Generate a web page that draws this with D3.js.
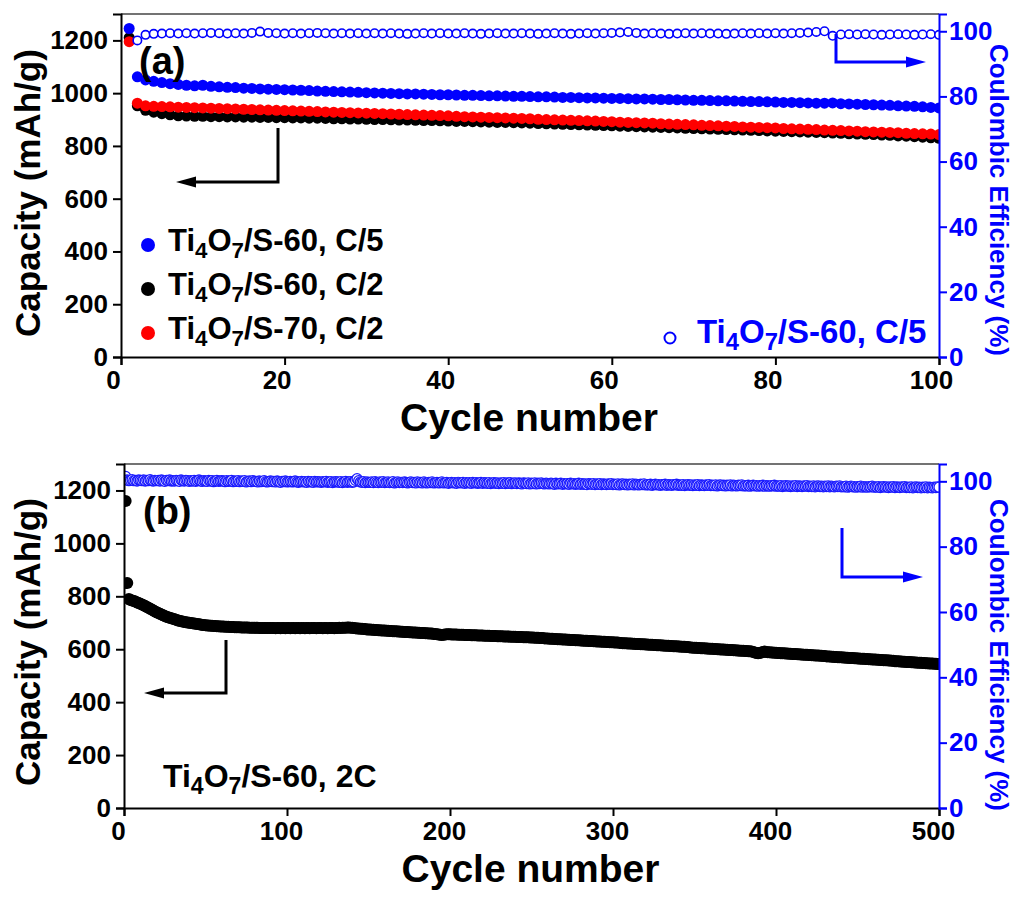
<!DOCTYPE html>
<html>
<head>
<meta charset="utf-8">
<script src="https://cdn.jsdelivr.net/npm/d3@7"></script>
<style>
  body { margin: 0; background: #fff; }
  svg text { font-family: "Liberation Sans", Arial, sans-serif; font-weight: bold; }
</style>
</head>
<body>
<svg width="1015" height="899"></svg>
<script>
// ---- data (a): 100 cycles ----
const capA_S60_C5 = [
  1245, 1062, 1050, 1045, 1040, 1036, 1033, 1030, 1028, 1030,
  1026, 1024, 1022, 1021, 1019, 1018, 1016, 1015, 1014, 1013,
  1012, 1011, 1010, 1008, 1007, 1006, 1005, 1004, 1003, 1002,
  1001, 1000, 999, 998, 997, 997, 996, 995, 994, 994,
  993, 992, 992, 991, 990, 990, 989, 988, 988, 987,
  986, 986, 985, 984, 984, 983, 982, 982, 981, 980,
  980, 979, 978, 978, 977, 976, 976, 975, 974, 973,
  973, 972, 971, 971, 970, 969, 968, 968, 967, 966,
  965, 965, 964, 963, 962, 962, 963, 960, 959, 958,
  957, 956, 955, 954, 952, 951, 950, 948, 946, 944
];
const capA_S60_C2 = [
  1210, 952, 935, 928, 922, 918, 914, 913, 912, 912,
  911, 911, 910, 910, 909, 909, 908, 908, 907, 907,
  906, 906, 905, 905, 904, 903, 903, 902, 902, 901,
  900, 900, 899, 898, 898, 897, 896, 896, 895, 894,
  893, 893, 892, 891, 890, 889, 889, 888, 887, 886,
  885, 884, 883, 882, 881, 880, 879, 878, 877, 876,
  875, 874, 873, 872, 871, 870, 869, 868, 867, 866,
  865, 864, 863, 862, 861, 860, 859, 858, 857, 856,
  855, 854, 853, 852, 851, 850, 849, 848, 846, 845,
  844, 843, 841, 840, 838, 837, 835, 833, 831, 829
];
const capA_S70_C2 = [
  1195, 962, 952, 950, 949, 948, 947, 946, 945, 944,
  943, 942, 941, 940, 939, 938, 937, 936, 935, 934,
  933, 932, 931, 930, 929, 928, 927, 926, 925, 924,
  923, 922, 921, 920, 919, 918, 917, 916, 915, 914,
  912, 911, 910, 909, 908, 907, 906, 905, 904, 903,
  901, 900, 899, 898, 897, 896, 895, 894, 893, 892,
  890, 889, 888, 887, 886, 884, 883, 882, 881, 880,
  878, 877, 876, 875, 874, 872, 871, 870, 869, 868,
  866, 865, 864, 863, 862, 860, 859, 858, 857, 856,
  854, 853, 852, 851, 850, 848, 847, 846, 845, 843
];
const ceA_S60_C5 = [
  null, 97.2, 98.9, 99.2, 99.3, 99.4, 99.3, 99.4, 99.3, 99.4,
  99.5, 99.4, 99.3, 99.4, 99.3, 99.5, 99.9, 99.5, 99.4, 99.3,
  99.4, 99.3, 99.4, 99.5, 99.4, 99.3, 99.4, 99.3, 99.4, 99.3,
  99.4, 99.3, 99.4, 99.3, 99.2, 99.3, 99.4, 99.3, 99.4, 99.3,
  99.3, 99.4, 99.3, 99.2, 99.3, 99.4, 99.3, 99.3, 99.4, 99.3,
  99.2, 99.3, 99.4, 99.3, 99.2, 99.3, 99.4, 99.3, 99.4, 99.5,
  99.6, 99.8, 99.5, 99.3, 99.4, 99.3, 99.2, 99.3, 99.4, 99.3,
  99.4, 99.3, 99.3, 99.2, 99.3, 99.4, 99.3, 99.4, 99.3, 99.4,
  99.3, 99.4, 99.5, 99.6, 99.8, 100.0, 98.6, 99.0, 99.1, 99.0,
  99.1, 99.0, 98.9, 99.0, 99.1, 99.0, 98.9, 99.0, 99.1, 98.9
];

// ---- data (b): 500 cycles at 2C ----
const capB_S60_2C = [
  1160, 850, 790, 786, 784, 782, 780, 777, 775, 772,
  769, 766, 763, 760, 757, 753, 750, 746, 743, 740,
  737, 734, 731, 728, 726, 723, 721, 719, 717, 715,
  713, 711, 709, 708, 706, 705, 703, 702, 701, 700,
  699, 698, 697, 696, 695, 694, 693, 692, 692, 691,
  690, 690, 689, 689, 688, 688, 687, 687, 686, 686,
  686, 685, 685, 685, 684, 684, 684, 683, 683, 683,
  683, 682, 682, 682, 682, 682, 681, 681, 681, 681,
  681, 681, 680, 680, 680, 680, 680, 680, 680, 680,
  680, 680, 679, 680, 680, 679, 680, 680, 679, 680,
  680, 679, 680, 680, 679, 680, 680, 679, 680, 680,
  679, 680, 680, 679, 680, 680, 680, 679, 680, 680,
  680, 679, 680, 680, 679, 680, 680, 680, 679, 680,
  680, 681, 680, 681, 681, 681, 682, 682, 681, 681,
  680, 679, 678, 678, 677, 677, 676, 676, 675, 675,
  675, 674, 674, 673, 673, 672, 672, 671, 671, 671,
  670, 670, 669, 669, 668, 668, 668, 667, 667, 666,
  666, 665, 665, 665, 664, 664, 663, 663, 663, 662,
  662, 661, 661, 661, 660, 660, 659, 659, 659, 658,
  658, 657, 656, 655, 654, 655, 656, 657, 657, 657,
  656, 656, 656, 656, 655, 655, 655, 655, 654, 654,
  654, 654, 653, 653, 653, 653, 652, 652, 652, 652,
  651, 651, 651, 651, 650, 650, 650, 650, 649, 649,
  649, 649, 648, 648, 648, 648, 647, 647, 647, 647,
  646, 646, 646, 646, 645, 645, 645, 645, 644, 644,
  644, 643, 643, 643, 642, 642, 642, 641, 641, 641,
  640, 640, 640, 639, 639, 638, 638, 638, 637, 637,
  637, 636, 636, 635, 635, 635, 634, 634, 634, 633,
  633, 632, 632, 632, 631, 631, 631, 630, 630, 629,
  629, 629, 628, 628, 628, 627, 627, 626, 626, 626,
  625, 625, 625, 624, 624, 623, 623, 623, 622, 622,
  622, 621, 621, 620, 620, 620, 619, 619, 619, 618,
  618, 617, 617, 617, 616, 616, 615, 615, 615, 614,
  614, 613, 613, 613, 612, 612, 611, 611, 611, 610,
  610, 609, 609, 609, 608, 608, 607, 607, 606, 606,
  606, 605, 605, 604, 604, 604, 603, 603, 602, 602,
  602, 601, 601, 600, 600, 599, 599, 599, 598, 598,
  597, 597, 597, 596, 596, 595, 595, 594, 594, 594,
  593, 593, 592, 592, 591, 590, 588, 586, 585, 586,
  588, 590, 591, 590, 589, 589, 588, 588, 587, 587,
  586, 586, 585, 585, 585, 584, 584, 583, 583, 582,
  582, 582, 581, 581, 580, 580, 579, 579, 579, 578,
  578, 577, 577, 576, 576, 576, 575, 575, 574, 574,
  573, 573, 573, 572, 572, 571, 571, 570, 570, 570,
  569, 569, 568, 568, 567, 567, 567, 566, 566, 565,
  565, 564, 564, 564, 563, 563, 562, 562, 561, 561,
  561, 560, 560, 559, 559, 558, 558, 558, 557, 557,
  556, 556, 555, 555, 555, 554, 554, 553, 553, 552,
  552, 552, 551, 551, 550, 550, 549, 549, 549, 548,
  548, 547, 547, 546, 546, 546, 545, 545, 544, 544
];
const ceB_S60_2C = [
  101.5, 100.4, 100.2, 100.3, 100.5, 100.2, 100.3, 100.1, 100.4, 100.3,
  100.2, 100.4, 100.1, 100.3, 100.2, 100.5, 100.2, 100.1, 100.3, 100.2,
  100.3, 100.1, 100.4, 100.2, 100.0, 100.3, 100.2, 100.4, 100.1, 100.2,
  100.1, 100.3, 100.2, 100.0, 100.4, 100.2, 100.1, 100.3, 100.2, 100.0,
  100.2, 100.1, 100.3, 100.0, 100.2, 100.4, 100.1, 100.0, 100.2, 100.1,
  100.0, 100.3, 100.1, 100.2, 99.9, 100.1, 100.3, 100.0, 100.1, 100.2,
  100.1, 99.9, 100.2, 100.0, 100.1, 100.3, 99.9, 100.1, 100.0, 100.2,
  99.9, 100.1, 100.0, 100.2, 99.8, 100.0, 100.1, 99.9, 100.2, 100.0,
  100.0, 99.8, 100.1, 99.9, 100.0, 100.2, 99.9, 99.8, 100.0, 100.1,
  99.9, 100.0, 99.8, 100.1, 99.9, 99.7, 100.0, 99.9, 100.1, 99.8,
  99.9, 100.0, 99.8, 99.9, 100.1, 99.8, 99.7, 99.9, 100.0, 99.8,
  99.9, 99.7, 100.0, 99.8, 99.9, 99.7, 100.0, 99.8, 99.9, 99.8,
  99.7, 99.9, 99.8, 100.0, 99.7, 99.8, 99.9, 99.6, 99.8, 99.9,
  99.8, 99.7, 99.9, 99.6, 99.8, 100.0, 99.7, 99.8, 99.9, 99.7,
  99.8, 100.3, 100.8, 100.2, 99.8, 99.7, 99.9, 99.6, 99.8, 99.7,
  99.7, 99.8, 99.6, 99.9, 99.7, 99.6, 99.8, 99.7, 99.9, 99.6,
  99.7, 99.8, 99.6, 99.7, 99.9, 99.5, 99.7, 99.8, 99.6, 99.7,
  99.6, 99.8, 99.7, 99.5, 99.7, 99.8, 99.6, 99.7, 99.5, 99.8,
  99.6, 99.7, 99.5, 99.8, 99.6, 99.5, 99.7, 99.6, 99.8, 99.5,
  99.6, 99.7, 99.5, 99.6, 99.8, 99.5, 99.6, 99.7, 99.4, 99.6,
  99.7, 99.5, 99.6, 99.4, 99.7, 99.6, 99.5, 99.7, 99.4, 99.6,
  99.5, 99.6, 99.4, 99.7, 99.5, 99.6, 99.4, 99.5, 99.7, 99.4,
  99.6, 99.5, 99.4, 99.6, 99.3, 99.5, 99.6, 99.4, 99.5, 99.3,
  99.5, 99.4, 99.6, 99.3, 99.5, 99.4, 99.6, 99.3, 99.4, 99.5,
  99.3, 99.5, 99.4, 99.2, 99.5, 99.4, 99.3, 99.5, 99.2, 99.4,
  99.3, 99.5, 99.2, 99.4, 99.3, 99.5, 99.3, 99.2, 99.4, 99.3,
  99.2, 99.4, 99.3, 99.1, 99.4, 99.2, 99.3, 99.4, 99.1, 99.3,
  99.2, 99.3, 99.1, 99.4, 99.2, 99.3, 99.1, 99.2, 99.4, 99.1,
  99.3, 99.1, 99.2, 99.0, 99.3, 99.2, 99.1, 99.3, 99.0, 99.2,
  99.1, 99.3, 99.0, 99.2, 99.1, 99.0, 99.2, 99.1, 99.3, 99.0,
  99.1, 99.0, 99.2, 98.9, 99.1, 99.2, 99.0, 99.1, 98.9, 99.1,
  99.0, 99.2, 98.9, 99.1, 99.0, 98.9, 99.1, 99.0, 99.2, 98.9,
  99.0, 98.9, 99.1, 98.8, 99.0, 99.1, 98.9, 99.0, 98.8, 99.0,
  98.9, 99.1, 98.8, 99.0, 98.9, 98.8, 99.0, 98.9, 99.1, 98.8,
  98.9, 98.8, 99.0, 98.7, 98.9, 99.0, 98.8, 98.9, 98.7, 98.9,
  98.8, 99.0, 98.7, 98.9, 98.8, 98.7, 98.9, 98.8, 99.0, 98.7,
  98.8, 98.7, 98.9, 98.6, 98.8, 98.9, 98.7, 98.8, 98.6, 98.8,
  98.7, 98.9, 98.6, 98.8, 98.7, 98.6, 98.8, 98.7, 98.9, 98.6,
  98.7, 98.6, 98.8, 98.5, 98.7, 98.8, 98.6, 98.7, 98.5, 98.7,
  98.6, 98.8, 98.5, 98.7, 98.6, 98.5, 98.7, 98.6, 98.8, 98.5,
  98.6, 98.5, 98.7, 98.4, 98.6, 98.7, 98.5, 98.6, 98.4, 98.6,
  98.5, 98.7, 98.4, 98.6, 98.5, 98.4, 98.6, 98.5, 98.7, 98.4,
  98.5, 98.4, 98.6, 98.3, 98.5, 98.6, 98.4, 98.5, 98.3, 98.5,
  98.4, 98.6, 98.3, 98.5, 98.4, 98.3, 98.5, 98.4, 98.6, 98.3,
  98.4, 98.3, 98.5, 98.2, 98.4, 98.5, 98.3, 98.4, 98.2, 98.4,
  98.3, 98.5, 98.2, 98.4, 98.3, 98.2, 98.4, 98.3, 98.5, 98.2,
  98.3, 98.2, 98.4, 98.1, 98.3, 98.4, 98.2, 98.3, 98.1, 98.3,
  98.2, 98.4, 98.1, 98.3, 98.2, 98.1, 98.3, 98.2, 98.4, 98.1,
  98.2, 98.1, 98.3, 98.0, 98.2, 98.3, 98.1, 98.2, 98.0, 98.2,
  98.1, 98.3, 98.0, 98.2, 98.1, 98.0, 98.2, 98.1, 98.3, 98.2
];

// ticks
const capTicks = [0, 200, 400, 600, 800, 1000, 1200];
const ceTicks = [0, 20, 40, 60, 80, 100];
const xTicksA = [0, 20, 40, 60, 80, 100];
const xTicksB = [0, 100, 200, 300, 400, 500];

const BLUE = "#0000ff", RED = "#ff0000", BLACK = "#000000";

const svg = d3.select("svg");

// writes Ti4O7/... with real subscripts
function chem(sel, tail, size) {
  sel.append("tspan").text("Ti");
  sel.append("tspan").attr("font-size", size * 0.72).attr("dy", size * 0.22).text("4");
  sel.append("tspan").attr("dy", -size * 0.22).text("O");
  sel.append("tspan").attr("font-size", size * 0.72).attr("dy", size * 0.22).text("7");
  sel.append("tspan").attr("dy", -size * 0.22).text(tail);
}

function arrow(pts, color) {
  const [tip, base] = [pts[pts.length - 1], pts[pts.length - 2]];
  const dir = Math.sign(tip[0] - base[0]);
  const head = 20, half = 5.5;
  const line = pts.slice();
  line[line.length - 1] = [tip[0] - dir * (head - 2), tip[1]];
  svg.append("polyline")
    .attr("points", line.map(d => d.join(",")).join(" "))
    .attr("fill", "none").attr("stroke", color).attr("stroke-width", 3);
  svg.append("polygon")
    .attr("points", [[tip[0], tip[1]], [tip[0] - dir * head, tip[1] - half], [tip[0] - dir * head, tip[1] + half]].map(d => d.join(",")).join(" "))
    .attr("fill", color);
}

function panel(p) {
  const x = d3.scaleLinear().domain([0, p.xMax]).range([p.left, p.right]);
  const yL = d3.scaleLinear().domain([0, 1300]).range([p.bottom, p.top]);
  const yR = d3.scaleLinear().domain([0, 105.3]).range([p.bottom, p.top]);

  const clipId = "clip-" + p.id;
  svg.append("clipPath").attr("id", clipId).append("rect")
    .attr("x", p.left).attr("y", p.top)
    .attr("width", p.right - p.left).attr("height", p.bottom - p.top);
  const plot = svg.append("g").attr("clip-path", `url(#${clipId})`);

  // capacity series
  p.cap.forEach(s => {
    plot.append("g").selectAll("circle")
      .data(s.values.map((v, i) => [i + 1, v]).filter(d => d[1] != null))
      .join("circle")
      .attr("cx", d => x(d[0])).attr("cy", d => yL(d[1]))
      .attr("r", p.r).attr("fill", s.color);
  });
  // coulombic efficiency
  plot.append("g").selectAll("circle")
    .data(p.ce.map((v, i) => [i + 1, v]).filter(d => d[1] != null))
    .join("circle")
    .attr("cx", d => x(d[0])).attr("cy", d => yR(d[1]))
    .attr("r", p.ceR).attr("fill", "#fff")
    .attr("stroke", p.ceStroke).attr("stroke-width", p.ceW);

  // frame top
  svg.append("line").attr("x1", p.left).attr("x2", p.right)
    .attr("y1", p.top).attr("y2", p.top)
    .attr("stroke", "#444").attr("stroke-width", 1.5);

  // bottom axis
  const xMinor = d3.range(0, p.xMax + 1, p.xMax / 10);
  const gx = svg.append("g").attr("transform", `translate(0,${p.bottom})`);
  gx.call(d3.axisBottom(x).tickValues(xMinor).tickSize(5).tickFormat(""));
  gx.call(d3.axisBottom(x).tickValues(p.xTicks).tickSize(8).tickPadding(6).tickFormat(d3.format("d")));
  gx.selectAll("text").attr("font-size", 26).attr("fill", BLACK)
    .attr("font-family", null).attr("dx", p.xdx);
  gx.selectAll("path, line").attr("stroke", BLACK).attr("stroke-width", 2);

  // left axis
  const gy = svg.append("g").attr("transform", `translate(${p.left},0)`);
  gy.call(d3.axisLeft(yL).tickValues(d3.range(0, 1301, 100)).tickSize(5).tickFormat(""));
  gy.call(d3.axisLeft(yL).tickValues(capTicks).tickSize(8).tickPadding(5).tickFormat(d3.format("d")));
  gy.selectAll("text").attr("font-size", 26).attr("fill", BLACK).attr("font-family", null);
  gy.selectAll("path, line").attr("stroke", BLACK).attr("stroke-width", 2);

  // right axis
  const gr = svg.append("g").attr("transform", `translate(${p.right},0)`);
  gr.call(d3.axisRight(yR).tickValues(d3.range(0, 101, 10)).tickSize(5).tickFormat(""));
  gr.call(d3.axisRight(yR).tickValues(ceTicks).tickSize(8).tickPadding(2).tickFormat(d3.format("d")));
  gr.selectAll("text").attr("font-size", 26).attr("fill", BLUE).attr("font-family", null);
  gr.selectAll("path, line").attr("stroke", BLUE).attr("stroke-width", 2);

  // axis titles
  svg.append("text").attr("x", (p.left + p.right) / 2 - 1).attr("y", p.bottom + 74)
    .attr("text-anchor", "middle").attr("font-size", 39).text("Cycle number");
  svg.append("text").attr("transform", `translate(40,${p.cy}) rotate(-90)`)
    .attr("text-anchor", "middle").attr("font-size", 35).text("Capacity (mAh/g)");
  svg.append("text").attr("transform", `translate(990,${p.cyR}) rotate(90)`)
    .attr("text-anchor", "middle").attr("font-size", 26).attr("fill", BLUE)
    .text("Coulombic Efficiency (%)");

  // panel tag
  svg.append("text").attr("x", p.tag[1]).attr("y", p.tag[2])
    .attr("font-size", 38).text(p.tag[0]);

  arrow(p.arrowL, BLACK);
  arrow(p.arrowR, BLUE);
}

panel({
  id: "a", left: 121, right: 939, top: 14, bottom: 357, xMax: 100, xTicks: xTicksA, xdx: -8,
  r: 5.5, ceR: 4.2, ceStroke: BLUE, ceW: 1.6,
  cap: [
    { values: capA_S60_C2, color: BLACK },
    { values: capA_S70_C2, color: RED },
    { values: capA_S60_C5, color: BLUE }
  ],
  ce: ceA_S60_C5,
  cy: 193, cyR: 200, tag: ["(a)", 139, 74],
  arrowL: [[278, 128], [278, 182], [176, 182]],
  arrowR: [[836, 34], [836, 62], [926, 62]]
});

panel({
  id: "b", left: 124, right: 939, top: 464, bottom: 808, xMax: 500, xTicks: xTicksB, xdx: -6,
  r: 6, ceR: 5, ceStroke: "#1a1aff", ceW: 1.3,
  cap: [{ values: capB_S60_2C, color: BLACK }],
  ce: ceB_S60_2C,
  cy: 642, cyR: 655, tag: ["(b)", 143, 524],
  arrowL: [[226, 640], [226, 693], [144, 693]],
  arrowR: [[842, 528], [842, 577], [923, 577]]
});

// legend (a)
const legA = [
  { label: "/S-60, C/5", color: BLUE },
  { label: "/S-60, C/2", color: BLACK },
  { label: "/S-70, C/2", color: RED }
];
legA.forEach((d, i) => {
  const yy = 245 + i * 44;
  svg.append("circle").attr("cx", 148).attr("cy", yy).attr("r", 7).attr("fill", d.color);
  chem(svg.append("text").attr("x", 168).attr("y", yy + 6).attr("font-size", 31), d.label, 31);
});
svg.append("circle").attr("cx", 670).attr("cy", 338).attr("r", 5.5)
  .attr("fill", "#fff").attr("stroke", BLUE).attr("stroke-width", 2);
chem(svg.append("text").attr("x", 697).attr("y", 343).attr("font-size", 33).attr("fill", BLUE), "/S-60, C/5", 33);

// label (b)
chem(svg.append("text").attr("x", 163).attr("y", 787).attr("font-size", 32), "/S-60, 2C", 32);
</script>
</body>
</html>
